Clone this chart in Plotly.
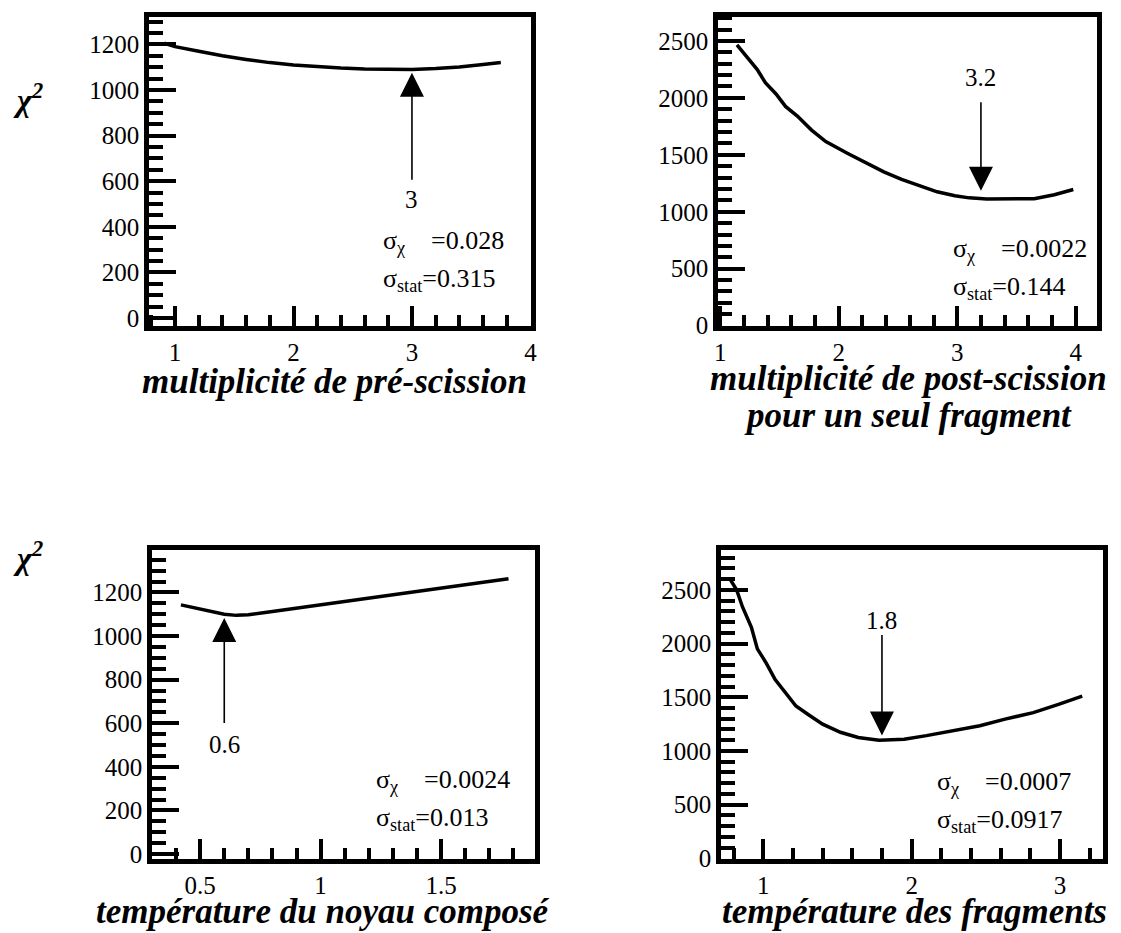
import plotly.graph_objects as go

# ---------------- data ----------------
# Panel 1 : multiplicité de pré-scission
p1_x = [0.91, 1.0, 1.2, 1.4, 1.6, 1.8, 2.0, 2.2, 2.4, 2.6, 2.8, 3.0, 3.2, 3.4, 3.6, 3.75]
p1_chi2 = [1205, 1190, 1170, 1150, 1134, 1120, 1110, 1102, 1096, 1092, 1090, 1090, 1094, 1101, 1112, 1120]
p1_best = 3
p1_sig = ["0.028", "0.315"]

# Panel 2 : multiplicité de post-scission pour un seul fragment
p2_x = [1.14, 1.23, 1.31, 1.38, 1.47, 1.55, 1.65, 1.77, 1.89, 2.08, 2.23, 2.38, 2.53, 2.68, 2.83,
        2.98, 3.1, 3.25, 3.45, 3.65, 3.82, 3.98]
p2_chi2 = [2465, 2350, 2250, 2134, 2034, 1925, 1840, 1717, 1616, 1510, 1429, 1350, 1285, 1227, 1175,
           1140, 1122, 1112, 1110, 1115, 1150, 1195]
p2_best = 3.2
p2_sig = ["0.0022", "0.144"]

# Panel 3 : température du noyau composé
p3_x = [0.42, 0.5, 0.55, 0.6, 0.65, 0.7, 0.8, 0.9, 1.0, 1.1, 1.2, 1.3, 1.4, 1.5, 1.6, 1.7, 1.78]
p3_chi2 = [1143, 1125, 1113, 1100, 1095, 1098, 1113, 1128, 1143, 1160, 1176, 1191, 1205, 1219, 1235, 1250, 1263]
p3_best = 0.6
p3_sig = ["0.0024", "0.013"]

# Panel 4 : température des fragments
p4_x = [0.78, 0.82, 0.86, 0.92, 0.96, 1.02, 1.08, 1.15, 1.22, 1.3, 1.4, 1.52, 1.64, 1.78, 1.95,
        2.1, 2.27, 2.46, 2.63, 2.82, 2.99, 3.15]
p4_chi2 = [2590, 2500, 2340, 2150, 1950, 1817, 1664, 1541, 1418, 1342, 1250, 1174, 1125, 1100, 1110,
           1143, 1189, 1235, 1296, 1357, 1434, 1510]
p4_best = 1.8
p4_sig = ["0.0007", "0.0917"]

titles = ["multiplicité de pré-scission",
          ["multiplicité de post-scission", "pour un seul fragment"],
          "température du noyau composé",
          "température des fragments"]

# ---------------- figure ----------------
W, H = 1121, 933
OFF = 8  # the page body adds an 8px margin: place everything 8px up/left
SERIF = "Liberation Serif, Times New Roman, Times, serif"
fig = go.Figure()

def px_x(p):
    return (p - OFF) / W

def px_y(p):
    return 1 - (p - OFF) / H

panels = [
    dict(x=p1_x, y=p1_chi2, xd=[149, 531], yd=[17, 326], xr=[0.78, 4.005], yr=[-35, 1320],
         xdt=1, xmin=0.2, ydt=200, ymin=50),
    dict(x=p2_x, y=p2_chi2, xd=[718, 1097], yd=[17, 326], xr=[0.98, 4.18], yr=[-3, 2710],
         xdt=1, xmin=0.2, ydt=500, ymin=100),
    dict(x=p3_x, y=p3_chi2, xd=[152, 535], yd=[550, 859], xr=[0.30, 1.89], yr=[-23, 1395],
         xdt=0.5, xmin=0.1, ydt=200, ymin=50),
    dict(x=p4_x, y=p4_chi2, xd=[721, 1103], yd=[550, 859], xr=[0.715, 3.29], yr=[-5, 2870],
         xdt=1, xmin=0.2, ydt=500, ymin=100),
]

tickfont = dict(family=SERIF, size=25, color="black")
layout = dict(width=W, height=H, margin=dict(l=0, r=0, t=0, b=0, autoexpand=False),
              template="none",
              paper_bgcolor="white", plot_bgcolor="white", showlegend=False)

for i, p in enumerate(panels):
    n = "" if i == 0 else str(i + 1)
    fig.add_trace(go.Scatter(x=p["x"], y=p["y"], mode="lines",
                             line=dict(color="black", width=3.5),
                             xaxis="x" + n, yaxis="y" + n, hoverinfo="skip"))
    layout["xaxis" + n] = dict(
        domain=[px_x(p["xd"][0]), px_x(p["xd"][1])], range=p["xr"], anchor="y" + n,
        automargin=False,
        tick0=0, dtick=p["xdt"], ticks="inside", ticklen=20, tickwidth=3.5, tickcolor="black",
        minor=dict(ticks="inside", ticklen=11, tickwidth=3.5, tickcolor="black",
                   tick0=0, dtick=p["xmin"], showgrid=False),
        showline=True, linewidth=4.5, linecolor="black", mirror=True,
        showgrid=False, zeroline=False, tickfont=tickfont)
    layout["yaxis" + n] = dict(
        domain=[px_y(p["yd"][1]), px_y(p["yd"][0])], range=p["yr"], anchor="x" + n,
        automargin=False,
        tick0=0, dtick=p["ydt"], ticks="inside", ticklen=27, tickwidth=3.5, tickcolor="black",
        minor=dict(ticks="inside", ticklen=14, tickwidth=3.5, tickcolor="black",
                   tick0=0, dtick=p["ymin"], showgrid=False),
        showline=True, linewidth=4.5, linecolor="black", mirror=True,
        showgrid=False, zeroline=False, tickfont=tickfont)

fig.update_layout(**layout)

ann = []
# arrows (tip, tail) and labels
arrows = [
    ("", p1_best, 1075, 600, 520, str(p1_best)),
    ("2", p2_best, 1184, 1975, 2177, str(p2_best)),
    ("3", p3_best, 1083, 594, 502, str(p3_best)),
    ("4", p4_best, 1143, 2093, 2215, str(p4_best)),
]
for n, xb, tip, tail, lab_y, lab in arrows:
    ann.append(dict(x=xb, y=tip, ax=xb, ay=tail, xref="x" + n, yref="y" + n,
                    axref="x" + n, ayref="y" + n, showarrow=True, arrowhead=2,
                    arrowsize=3.0, arrowwidth=1.6, arrowcolor="black", text=""))
    ann.append(dict(x=xb, y=lab_y, xref="x" + n, yref="y" + n, showarrow=False,
                    text=lab, font=dict(family=SERIF, size=25, color="black"),
                    xanchor="center", yanchor="middle"))

# sigma texts
sig = [("", 2.74, 333, 165, p1_sig), ("2", 2.95, 666, 335, p2_sig),
       ("3", 1.22, 334, 159, p3_sig), ("4", 2.16, 698, 347, p4_sig)]
NB = "\u00a0"
for n, xs, y1, y2, s in sig:
    ann.append(dict(x=xs, y=y1, xref="x" + n, yref="y" + n, showarrow=False,
                    text="σ<sub>χ</sub>" + NB * 4 + "=" + s[0],
                    font=dict(family=SERIF, size=26, color="black"),
                    xanchor="left", yanchor="middle"))
    ann.append(dict(x=xs, y=y2, xref="x" + n, yref="y" + n, showarrow=False,
                    text="σ<sub>stat</sub>=" + s[1],
                    font=dict(family=SERIF, size=26, color="black"),
                    xanchor="left", yanchor="middle"))

# axis titles
tfont = dict(family=SERIF, size=35, color="black")
def title_ann(xp, yp, txt):
    return dict(x=px_x(xp), y=px_y(yp), xref="paper", yref="paper", showarrow=False,
                xanchor="center", yanchor="middle",
                text="<b><i>" + txt + "</i></b>", font=tfont)

ann.append(title_ann(334, 382, titles[0]))
ann.append(title_ann(908, 379, titles[1][0]))
ann.append(title_ann(908, 415, titles[1][1]))
ann.append(title_ann(323, 911, titles[2]))
ann.append(title_ann(914, 911, titles[3]))

# chi^2 labels
for yy in (98, 556):
    ann.append(dict(x=px_x(28), y=px_y(yy), xref="paper", yref="paper", showarrow=False,
                    xanchor="center", yanchor="middle",
                    text="<b><i>χ<sup>2</sup></i></b>",
                    font=dict(family=SERIF, size=32, color="black")))

fig.update_layout(annotations=ann)
fig.write_html("out.html")
